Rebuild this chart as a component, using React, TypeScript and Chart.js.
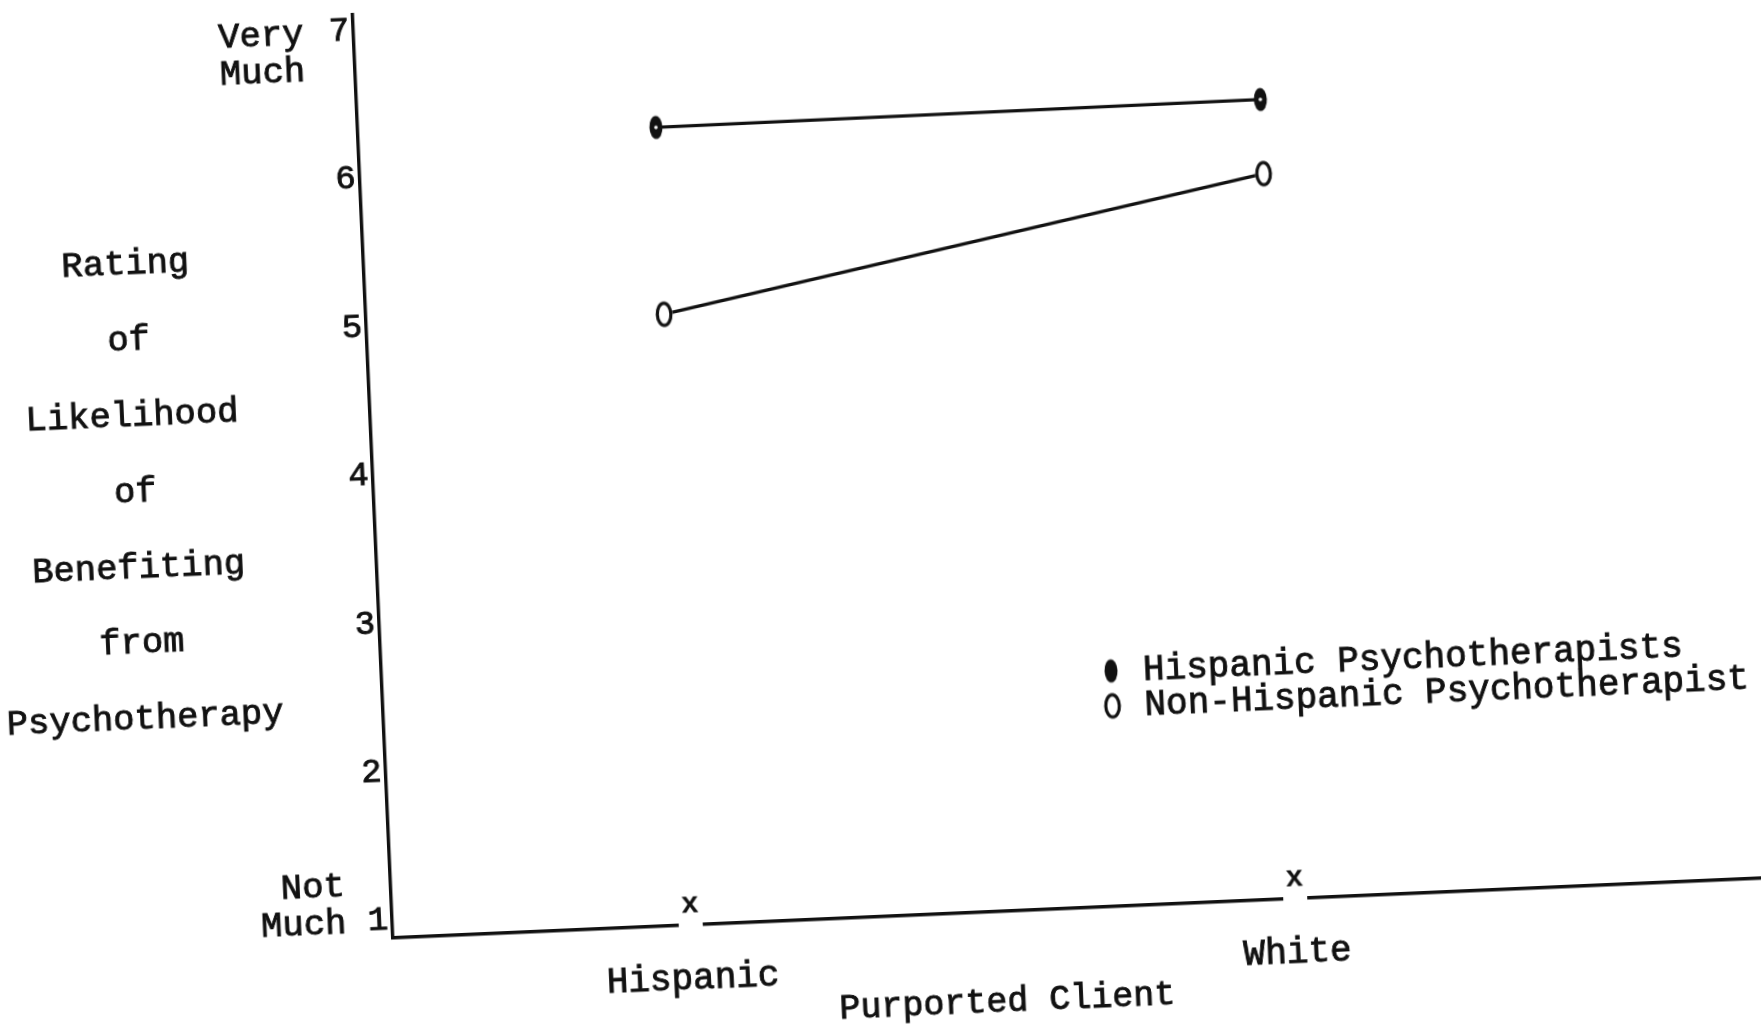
import React, { useEffect, useRef } from 'react';
import { Chart, registerables } from 'chart.js';

Chart.register(...registerables);

// ---- data ----
const categories = ['Hispanic', 'White'];
const categoryPositions = [1, 2];
const hispanicTherapists = [6.26, 6.27];
const nonHispanicTherapists = [5.0, 5.77];
const axisMarks = [1, 1];
const yTicks = [1, 2, 3, 4, 5, 6, 7];
const seriesLabels = ['Hispanic Psychotherapists', 'Non-Hispanic Psychotherapist'];
const yTitleLines = ['Rating', 'of', 'Likelihood', 'of', 'Benefiting', 'from', 'Psychotherapy'];
const xTitle = 'Purported Client';
const yTopLabel = ['Very', 'Much'];
const yBottomLabel = ['Not', 'Much'];

const INK = '#111111';
const FONT = '"Liberation Mono", "DejaVu Sans Mono", monospace';

function makeEllipse(withDot: boolean): HTMLCanvasElement {
  const c = document.createElement('canvas');
  c.width = 18;
  c.height = 28;
  const g = c.getContext('2d')!;
  g.fillStyle = INK;
  g.beginPath();
  g.ellipse(9, 14, 6.5, 11.5, 0, 0, Math.PI * 2);
  g.fill();
  if (withDot) {
    g.fillStyle = '#ffffff';
    g.beginPath();
    g.arc(9, 14, 1.8, 0, Math.PI * 2);
    g.fill();
  }
  return c;
}

function makeZero(): HTMLCanvasElement {
  const c = document.createElement('canvas');
  c.width = 24;
  c.height = 32;
  const g = c.getContext('2d')!;
  g.fillStyle = '#ffffff';
  g.beginPath();
  g.ellipse(12, 16, 8.5, 13, 0, 0, Math.PI * 2);
  g.fill();
  g.strokeStyle = INK;
  g.lineWidth = 3.2;
  g.beginPath();
  g.ellipse(12, 16, 6.8, 11.2, 0, 0, Math.PI * 2);
  g.stroke();
  return c;
}

function makeAxisMark(): HTMLCanvasElement {
  const c = document.createElement('canvas');
  c.width = 30;
  c.height = 50;
  const g = c.getContext('2d')!;
  g.fillStyle = '#ffffff';
  g.fillRect(3, 25 + 17.5 - 5, 24, 10);
  g.fillStyle = INK;
  g.font = `bold 30px ${FONT}`;
  g.textAlign = 'center';
  g.textBaseline = 'middle';
  g.fillText('x', 15, 22);
  return c;
}

export default function App() {
  const ref = useRef<HTMLCanvasElement>(null);

  useEffect(() => {
    document.body.style.margin = '0';
    const canvas = ref.current;
    if (!canvas) return;

    const dotMarker = makeEllipse(true);
    const legendDot = makeEllipse(false);
    const zeroMarker = makeZero();
    const axisMark = makeAxisMark();

    const annotate = {
      id: 'annotate',
      afterDraw(chart: any) {
        const { ctx, chartArea } = chart;
        const yScale = chart.scales.y;
        const L = chartArea.left;
        const B = chartArea.bottom;
        ctx.save();
        ctx.fillStyle = INK;
        ctx.strokeStyle = INK;
        ctx.lineWidth = 0.9;
        ctx.textBaseline = 'middle';
        const put = (t: string, x: number, y: number) => {
          ctx.fillText(t, x, y);
          ctx.strokeText(t, x, y);
        };

        // y-axis title, stacked lines
        ctx.font = `35.5px ${FONT}`;
        ctx.textAlign = 'center';
        yTitleLines.forEach((t, i) => {
          put(t, L - 238, B - 684 + 75.8 * i);
        });

        // end labels
        const y7 = yScale.getPixelForValue(7);
        const y1 = yScale.getPixelForValue(1);
        ctx.textAlign = 'right';
        put(yTopLabel[0], L - 50, y7 + 2);
        put(yTopLabel[1], L - 50, y7 + 39);
        put(yBottomLabel[0], L - 46, y1 - 36);
        put(yBottomLabel[1], L - 46, y1 + 1);

        // x-axis title
        ctx.textAlign = 'center';
        ctx.font = `35px ${FONT}`;
        put(xTitle, L + 611, B + 91);

        // legend
        ctx.font = `36px ${FONT}`;
        ctx.textAlign = 'left';
        const rows = [
          { img: legendDot, y: B - 235.5 },
          { img: zeroMarker, y: B - 200.5 },
        ];
        rows.forEach((r, i) => {
          ctx.drawImage(r.img, L + 729 - r.img.width / 2, r.y - r.img.height / 2);
          put(seriesLabels[i], L + 761, r.y + 1);
        });
        ctx.restore();
      },
    };

    const chart = new Chart(canvas, {
      type: 'line',
      data: {
        datasets: [
          {
            label: seriesLabels[0],
            data: categoryPositions.map((x, i) => ({ x, y: hispanicTherapists[i] })),
            borderColor: INK,
            borderWidth: 3.4,
            pointStyle: dotMarker as any,
            pointRadius: 10,
            tension: 0,
            clip: false as any,
          },
          {
            label: seriesLabels[1],
            data: categoryPositions.map((x, i) => ({ x, y: nonHispanicTherapists[i] })),
            borderColor: INK,
            borderWidth: 3.4,
            pointStyle: zeroMarker as any,
            pointRadius: 10,
            tension: 0,
            clip: false as any,
          },
          {
            label: 'axis marks',
            data: categoryPositions.map((x, i) => ({ x, y: axisMarks[i] })),
            showLine: false,
            pointStyle: axisMark as any,
            pointRadius: 10,
            clip: false as any,
          },
        ],
      },
      options: {
        responsive: false,
        animation: false,
        events: [],
        layout: { padding: { left: 293, top: 13, right: 32, bottom: 62 } },
        plugins: {
          legend: { display: false },
          title: { display: false },
          tooltip: { enabled: false },
        },
        scales: {
          x: {
            type: 'linear',
            min: 0.5074,
            max: 2.78,
            afterBuildTicks: (scale: any) => {
              scale.ticks = categoryPositions.map((v) => ({ value: v }));
            },
            afterFit: (scale: any) => {
              scale.height = 100;
              scale.paddingLeft = 0;
              scale.paddingRight = 0;
            },
            grid: { display: false, drawTicks: false },
            border: { display: true, color: INK, width: 3.4 },
            ticks: {
              autoSkip: false,
              maxRotation: 0,
              padding: 33,
              color: INK,
              textStrokeColor: INK,
              textStrokeWidth: 0.9,
              font: { family: FONT, size: 36 },
              callback: (v: any) => {
                const idx = categoryPositions.indexOf(Number(v));
                return idx >= 0 ? categories[idx] : '';
              },
            },
          },
          y: {
            type: 'linear',
            min: 0.882,
            max: 7.11,
            afterBuildTicks: (scale: any) => {
              scale.ticks = yTicks.map((v) => ({ value: v }));
            },
            afterFit: (scale: any) => {
              scale.width = 100;
              scale.paddingTop = 0;
              scale.paddingBottom = 0;
            },
            grid: { display: false, drawTicks: false },
            border: { display: true, color: INK, width: 3.4 },
            ticks: {
              padding: 4,
              color: INK,
              textStrokeColor: INK,
              textStrokeWidth: 0.9,
              font: { family: FONT, size: 34 },
              callback: (v: any) => String(v),
            },
          },
        },
      },
      plugins: [annotate],
    });

    return () => chart.destroy();
  }, []);

  return (
    <div
      style={{
        position: 'fixed',
        left: 0,
        top: 0,
        width: 1761,
        height: 1030,
        overflow: 'hidden',
        background: '#ffffff',
      }}
    >
      <canvas
        ref={ref}
        width={1800}
        height={1100}
        style={{
          position: 'absolute',
          left: 0,
          top: 0,
          width: 1800,
          height: 1100,
          transformOrigin: '393px 938px',
          transform: 'rotate(-2.5deg)',
        }}
      />
    </div>
  );
}
